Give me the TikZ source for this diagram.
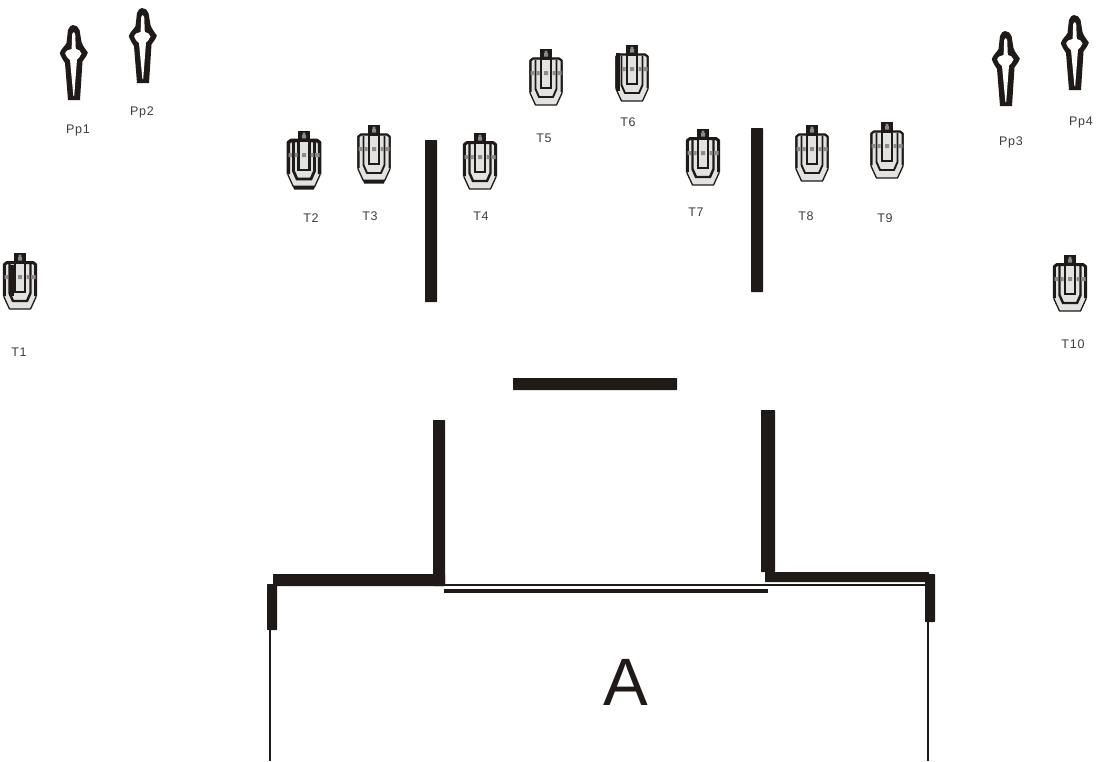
\documentclass[tikz,border=0pt]{standalone}
\usepackage{fontspec}
\setmainfont{Liberation Sans}
\definecolor{ink}{HTML}{1F1A17}
\definecolor{plate}{HTML}{E2E2E0}
\definecolor{greymark}{HTML}{8C8C8C}
\def\tgt{2.2pt}
\def\inw{1.9pt}
\tikzset{
  wall/.style={fill=ink,draw=none,rounded corners=0.6pt},
  thinline/.style={draw=ink,line width=1.6pt},
  lab/.style={font=\fontsize{12.5}{13}\selectfont\addfontfeatures{LetterSpace=6},text=ink!85,inner sep=0pt},
  target/.pic={
    \fill[ink] (-6,0) rectangle (6,12);
    \fill[greymark] (0,3) ellipse (1.8 and 1.6) (-2,4) rectangle (2,7.5);
    \draw[ink,line width=1.3pt,fill=plate,line join=round]
      (-13,9.5) -- (-16,12) -- (-16,44) -- (-10.5,56) -- (10.5,56) -- (16,44) -- (16,12) -- (13,9.5) -- cycle;
    \draw[ink,line width=\tgt,line join=round]
      (-15.6,43) -- (-15.6,11.5) -- (-13,9.5) -- (13,9.5) -- (15.6,11.5) -- (15.6,43);
    \draw[ink,line width=\inw,line join=miter]
      (-10.5,11) -- (-10.5,40) -- (-7,48) -- (7,48) -- (10.5,40) -- (10.5,11);
    \draw[ink,line width=\inw,fill=plate] (-5.2,10) rectangle (5.2,39);
    \fill[greymark] (-15.5,22) rectangle (-12,26) (-9.5,22) rectangle (-6.5,26)
      (-2,22) rectangle (2,26) (6.5,22) rectangle (9.5,26) (11,22) rectangle (15.5,26);
  },
  foot/.pic={
    \fill[ink] (-11,54.5) -- (11,54.5) -- (10,58.5) -- (-10,58.5) -- cycle;
  },
  figure/.pic={
    \fill[ink,line join=round]
      (-1,0) .. controls (2,0) and (4.5,2) .. (5.5,5)
      -- (7.5,17) .. controls (9,22) and (12,24) .. (13.8,27.5)
      .. controls (13,31) and (10,34) .. (8.5,36.5)
      -- (6,75) -- (-6,75) -- (-9,38)
      .. controls (-11,35) and (-13.5,31) .. (-14.2,28)
      .. controls (-13,24) and (-9,21) .. (-7.5,18)
      -- (-6,5) .. controls (-5,2) and (-3,0) .. (-1,0) -- cycle;
    \fill[white]
      (-0.3,7) -- (1.2,9) -- (1.8,24) .. controls (4,24) and (7,26) .. (7.5,28.5)
      .. controls (7,31) and (4,33.5) .. (3,34.5)
      -- (0.2,71) -- (-0.6,71) -- (-4,35)
      .. controls (-6,33.5) and (-8.5,31) .. (-8.8,28.5)
      .. controls (-8.5,26) and (-5,24) .. (-2.4,24)
      -- (-1.8,9) -- cycle;
  }
}
\begin{document}
\begin{tikzpicture}[x=1pt,y=-1pt]
\useasboundingbox (0,0) rectangle (1097,761);
% targets
\begin{scope}
\def\tgt{3.6pt}
\def\inw{2.8pt}
\pic at (304,131) {target};
\pic at (304,131) {foot};
\end{scope}
\pic at (374,125) {target};
\pic at (374,125) {foot};
\begin{scope}
\def\tgt{3pt}
\def\inw{2.4pt}
\pic at (480,133) {target};
\pic at (703,129) {target};
\pic at (20,253) {target};
\pic at (1070,255) {target};
\end{scope}
\pic at (546,49) {target};
\pic at (632,45) {target};
\pic at (812,125) {target};
\pic at (887,122) {target};
\fill[ink] (616,53) rectangle (619.5,91);
\fill[ink] (9,265) rectangle (13.5,296);
% figures
\pic at (74,25) {figure};
\pic at (143,8) {figure};
\pic at (1006,31) {figure};
\pic at (1075,15) {figure};
% walls
\fill[wall] (425,140) rectangle (437,302);
\fill[wall] (751,128) rectangle (763,292);
\fill[wall] (513,378) rectangle (677,390);
\fill[wall] (433,420) rectangle (445,586);
\fill[wall] (761,410) rectangle (775,572);
\fill[wall] (273,574) rectangle (445,586);
\fill[wall] (267,584) rectangle (277,630);
\fill[wall] (765,572) rectangle (929,582);
\fill[wall] (925,574) rectangle (935,622);
\fill[ink] (444,589) rectangle (768,592.5);
\draw[thinline] (277,585) -- (925,585);
\draw[thinline] (270,630) -- (270,761);
\draw[thinline] (928,622) -- (928,761);
% labels
\node[lab] (t1) at (19,352) {T1};
\node[lab] (t2) at (311,218) {T2};
\node[lab] (t3) at (370,216) {T3};
\node[lab] (t4) at (481,216) {T4};
\node[lab] (t5) at (544,138) {T5};
\node[lab] (t6) at (628,122) {T6};
\node[lab] (t7) at (696,212) {T7};
\node[lab] (t8) at (806,216) {T8};
\node[lab] (t9) at (885,218) {T9};
\node[lab] (t10) at (1073,344) {T10};
\node[lab] (p1) at (78,130) {Pp1};
\node[lab] (p2) at (142,112) {Pp2};
\node[lab] (p3) at (1011,142) {Pp3};
\node[lab] (p4) at (1081,122) {Pp4};
\node[text=ink,inner sep=0pt,font=\fontsize{67}{67}\selectfont] (a) at (626,682) {A};
\end{tikzpicture}
\end{document}
